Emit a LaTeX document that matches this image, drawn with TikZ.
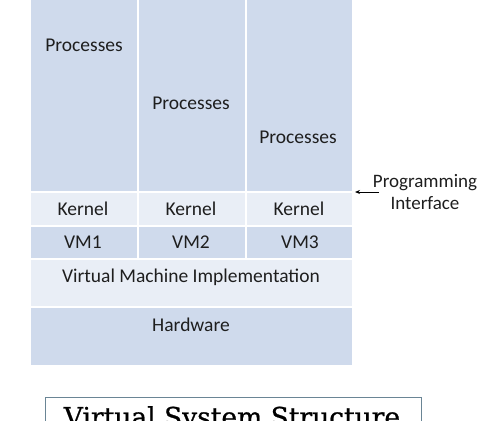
\documentclass[tikz,border=0pt]{standalone}
\usepackage{fontspec}
\setmainfont{Carlito}
\newfontfamily\titlefont{DejaVu Serif}
\usetikzlibrary{arrows.meta}
\definecolor{darkcell}{HTML}{CFDAEC}
\definecolor{lightcell}{HTML}{E9EEF6}
\definecolor{titleborder}{HTML}{6A8595}
\definecolor{txt}{HTML}{1E1E1E}
\begin{document}
\begin{tikzpicture}[x=1pt,y=-1pt,
  cell/.style={draw=white,line width=1.5pt},
  lbl/.style={inner sep=0pt,font=\fontsize{19.5}{22}\selectfont,text=txt,anchor=center},
  ]
\useasboundingbox (0,0) rectangle (478,420);
\begin{scope}
\clip (0,0) rectangle (478,420);
% process columns
\draw[cell,fill=darkcell] (30,-10) rectangle (138,192);
\draw[cell,fill=darkcell] (138,-10) rectangle (246,192);
\draw[cell,fill=darkcell] (246,-10) rectangle (353,192);
% kernel row
\draw[cell,fill=lightcell] (30,192) rectangle (138,226);
\draw[cell,fill=lightcell] (138,192) rectangle (246,226);
\draw[cell,fill=lightcell] (246,192) rectangle (353,226);
% vm row
\draw[cell,fill=darkcell] (30,226) rectangle (138,259);
\draw[cell,fill=darkcell] (138,226) rectangle (246,259);
\draw[cell,fill=darkcell] (246,226) rectangle (353,259);
% vmi
\draw[cell,fill=lightcell] (30,259) rectangle (353,307);
% hardware
\draw[cell,fill=darkcell] (30,307) rectangle (353,366);
\end{scope}
\node[lbl] (p1) at (84,45) {Processes};
\node[lbl] (p2) at (191,103) {Processes};
\node[lbl] (p3) at (298,137) {Processes};
\node[lbl] (k1) at (83,209) {Kernel};
\node[lbl] (k2) at (191,209) {Kernel};
\node[lbl] (k3) at (299,209) {Kernel};
\node[lbl] (v1) at (83,242) {VM1};
\node[lbl] (v2) at (191,242) {VM2};
\node[lbl] (v3) at (300,242) {VM3};
\node[lbl] (vmi) at (191,277) {Virtual Machine Implementation};
\node[lbl] (hw) at (191,325) {Hardware};
\node[lbl,align=center,font=\fontsize{19}{23}\selectfont] (pi) at (425,192) {Programming\\[-1pt]Interface};
\coordinate (pit) at (355,192);
\draw[-{Stealth[length=5pt,width=4pt]},line width=1pt,black] (379,192) -- (pit);
% title
\begin{scope}
\clip (0,0) rectangle (478,420);
\node[draw=titleborder,line width=0.8pt,minimum width=376pt,minimum height=60pt,anchor=north west,inner sep=0pt] (tbox) at (45,397) {};
\node[anchor=north,inner sep=0pt,font=\titlefont\fontsize{26.5}{30}\selectfont,text=black] (title) at (232,406) {\addfontfeatures{FakeBold=0.8}Virtual System Structure};
\end{scope}
\end{tikzpicture}
\end{document}
